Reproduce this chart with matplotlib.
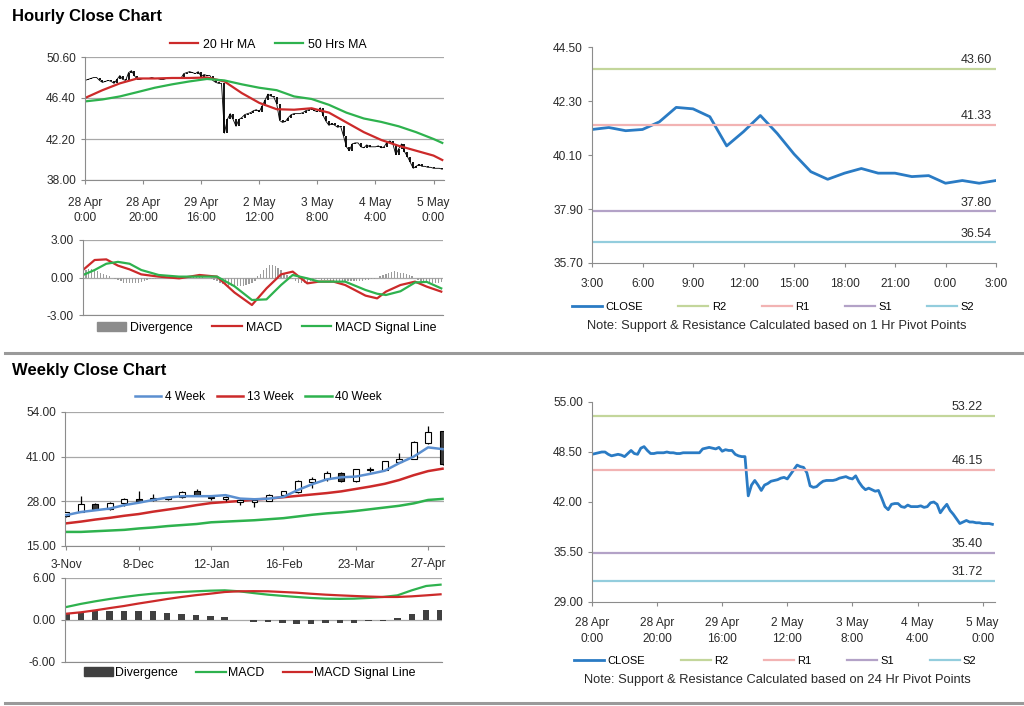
import matplotlib
matplotlib.use("Agg")
import matplotlib.pyplot as plt
import numpy as np
from matplotlib.lines import Line2D
from matplotlib.patches import Patch, Rectangle

plt.rcParams['font.family'] = ['Liberation Sans', 'DejaVu Sans']
plt.rcParams['font.size'] = 8.6

# ---------------- hourly data (28 Apr 0:00 .. 5 May ~3:00) ----------------
hourly_close = [
    48.2, 48.3, 48.4, 48.5, 48.5, 48.2, 48.0, 48.1, 48.2, 48.1,
    47.9, 48.3, 48.7, 48.3, 48.2, 49.0, 49.2, 48.7, 48.3, 48.3,
    48.4, 48.4, 48.4, 48.5, 48.4, 48.4, 48.3, 48.3, 48.4, 48.4,
    48.4, 48.4, 48.4, 48.4, 48.9, 49.0, 49.1, 49.0, 48.9, 49.1,
    48.6, 48.8, 48.7, 48.7, 48.2, 48.0, 47.9, 47.9, 42.8, 44.2,
    44.8, 44.2, 43.5, 44.2, 44.4, 44.7, 44.8, 44.9, 45.1, 45.2,
    45.0, 45.6, 46.2, 46.8, 46.6, 46.5, 45.8, 44.1, 43.9, 44.0,
    44.4, 44.7, 44.8, 44.8, 44.8, 44.9, 45.1, 45.2, 45.3, 45.1,
    45.0, 45.4, 44.6, 44.0, 43.6, 43.8, 43.6, 43.4, 43.5, 42.5,
    41.4, 41.0, 41.7, 41.8, 41.8, 41.4, 41.3, 41.6, 41.4, 41.4,
    41.4, 41.5, 41.3, 41.4, 41.9, 42.0, 41.7, 40.6, 41.2, 41.7,
    40.9, 40.4, 39.8, 39.2, 39.4, 39.6, 39.4, 39.4, 39.3, 39.3,
    39.2, 39.2, 39.2, 39.1,
]
hour_ticks = [0, 20, 40, 60, 80, 100, 120]
hour_tick_labels = ['28 Apr\n0:00', '28 Apr\n20:00', '29 Apr\n16:00', '2 May\n12:00',
                    '3 May\n8:00', '4 May\n4:00', '5 May\n0:00']

ma_hours = [0, 6, 12, 18, 24, 30, 36, 42, 48, 54, 60, 66, 72, 78, 84, 90, 96, 102, 108, 114, 120, 123]
ma20 = [46.4, 47.2, 47.9, 48.4, 48.4, 48.45, 48.45, 48.5, 48.1, 46.9, 45.9, 45.25,
        45.2, 45.35, 44.9, 43.9, 42.9, 42.1, 41.5, 41.0, 40.5, 40.05]
ma50 = [46.05, 46.25, 46.56, 47.0, 47.45, 47.8, 48.1, 48.35, 48.2, 47.8, 47.45, 47.2,
        46.56, 46.3, 45.7, 44.9, 44.3, 43.95, 43.5, 42.9, 42.2, 41.8]

macd_hours = [0, 4, 8, 12, 16, 20, 26, 33, 40, 46, 52, 58, 63, 68, 72, 77, 81, 86, 90,
              97, 101, 104, 109, 114, 118, 123]
macd_h = [0.6, 1.4, 1.45, 0.95, 0.65, 0.25, 0.07, -0.07, 0.2, 0.07, -1.2, -2.2, -0.87,
          0.25, 0.47, -0.47, -0.33, -0.33, -0.6, -1.45, -1.67, -1.13, -0.6, -0.33, -0.73, -1.13]
signal_h = [0.2, 0.6, 1.1, 1.25, 1.1, 0.6, 0.2, 0.07, 0.07, 0.07, -0.7, -1.8, -1.75,
            -0.6, 0.2, -0.07, -0.33, -0.33, -0.33, -1.0, -1.3, -1.4, -1.1, -0.4, -0.35, -0.87]
divergence_h = [
    0.5, 0.6, 0.7, 0.7, 0.6, 0.5, 0.4, 0.3, 0.2, 0.1,
    0.0, -0.1, -0.2, -0.3, -0.4, -0.45, -0.45, -0.45, -0.4, -0.4,
    -0.35, -0.3, -0.2, -0.15, -0.1, -0.1, -0.05, -0.05, 0.0, 0.0,
    0.02, 0.02, 0.02, 0.02, 0.02, 0.02, 0.02, 0.02, 0.02, 0.02,
    0.05, 0.05, 0.0, -0.05, -0.1, -0.2, -0.3, -0.4, -0.5, -0.6,
    -0.65, -0.7, -0.75, -0.7, -0.7, -0.65, -0.6, -0.5, -0.4, -0.3,
    0.1, 0.3, 0.6, 0.8, 1.0, 1.0, 0.95, 0.8, 0.6, 0.4,
    0.2, 0.1, -0.1, -0.3, -0.4, -0.45, -0.45, -0.4, -0.3, -0.2,
    -0.1, -0.15, -0.2, -0.2, -0.2, -0.25, -0.25, -0.3, -0.3, -0.3,
    -0.3, -0.3, -0.3, -0.3, -0.3, -0.3, -0.25, -0.2, -0.2, -0.15,
    -0.1, 0.0, 0.1, 0.2, 0.3, 0.4, 0.45, 0.5, 0.45, 0.4,
    0.35, 0.3, 0.2, 0.1, 0.0, -0.2, -0.3, -0.4, -0.3, -0.35,
    -0.4, -0.4, -0.4, -0.35,
]

# last 24 hours close (3:00 .. 3:00)
day_close = [41.14, 41.22, 41.09, 41.14, 41.45, 42.04, 41.98, 41.66, 40.47, 41.05,
             41.71, 40.98, 40.14, 39.42, 39.11, 39.36, 39.55, 39.36, 39.36, 39.22,
             39.26, 38.95, 39.06, 38.95, 39.06]
day_tick_labels = ['3:00', '6:00', '9:00', '12:00', '15:00', '18:00', '21:00', '0:00', '3:00']

level_names = ['R2', 'R1', 'S1', 'S2']
level_colors = ['#c3d69b', '#f2b3b3', '#b3a2c7', '#93cddd']
hr_levels = [43.60, 41.33, 37.80, 36.54]
day_levels = [53.22, 46.15, 35.40, 31.72]

# ---------------- weekly data (3-Nov .. 4-May) ----------------
wk_open = [23.6, 25.0, 27.3, 25.8, 27.5, 28.7, 28.4, 28.7, 29.2, 31.0, 29.0, 28.8, 27.8, 27.8,
           28.2, 29.9, 30.6, 33.6, 34.5, 36.2, 33.9, 37.0, 37.2, 39.4, 40.4, 45.0, 48.4]
wk_close = [24.9, 27.1, 25.7, 27.5, 28.7, 28.1, 29.0, 29.2, 30.7, 29.7, 29.4, 29.4, 28.5, 28.5,
            29.9, 30.9, 33.9, 34.5, 36.2, 34.0, 37.3, 37.3, 39.6, 40.4, 45.3, 48.2, 38.9]
wk_high = [25.0, 29.5, 27.6, 27.7, 28.9, 31.0, 30.0, 29.4, 30.9, 31.6, 29.6, 29.6, 28.7, 28.7,
           30.0, 31.1, 34.2, 35.0, 36.8, 36.4, 37.5, 38.0, 39.8, 42.1, 45.5, 49.9, 48.6]
wk_low = [23.4, 24.9, 25.5, 25.6, 26.5, 27.9, 28.2, 28.5, 29.0, 29.5, 28.3, 28.2, 26.8, 26.3,
          28.0, 29.4, 30.4, 31.9, 34.0, 33.5, 33.7, 36.5, 37.0, 39.2, 40.2, 44.6, 38.7]
ma4w = [24.0, 24.9, 25.4, 25.9, 26.9, 27.6, 28.4, 29.1, 29.5, 29.5, 29.5, 29.8, 28.8, 28.6,
        28.8, 29.3, 31.3, 33.0, 34.4, 35.0, 35.2, 36.0, 36.9, 39.1, 41.0, 43.7, 43.2]
ma13w = [21.6, 22.1, 22.7, 23.2, 23.8, 24.3, 25.0, 25.6, 26.2, 26.9, 27.5, 27.8, 28.1, 28.5,
         28.8, 29.2, 29.6, 30.0, 30.4, 30.9, 31.6, 32.3, 33.1, 34.2, 35.6, 36.8, 37.5]
ma40w = [19.1, 19.1, 19.3, 19.5, 19.7, 20.1, 20.4, 20.8, 21.1, 21.4, 21.9, 22.1, 22.3, 22.5,
         22.8, 23.1, 23.6, 24.1, 24.5, 24.8, 25.2, 25.7, 26.2, 26.7, 27.4, 28.4, 28.7]
macd_w = [1.86, 2.3, 2.67, 3.0, 3.29, 3.55, 3.76, 3.9, 4.0, 4.1, 4.19, 4.24, 4.1, 3.85,
          3.62, 3.45, 3.29, 3.15, 3.05, 3.02, 3.05, 3.15, 3.29, 3.52, 4.24, 4.86, 5.05]
signal_w = [0.9, 1.1, 1.38, 1.7, 2.0, 2.35, 2.67, 3.0, 3.29, 3.55, 3.76, 4.0, 4.1, 4.12,
            4.1, 4.0, 3.9, 3.75, 3.62, 3.52, 3.43, 3.35, 3.29, 3.29, 3.38, 3.52, 3.67]
divergence_w = [0.9, 1.05, 1.24, 1.24, 1.24, 1.24, 1.24, 1.05, 0.9, 0.76, 0.57, 0.43, 0.05,
                -0.29, -0.29, -0.38, -0.57, -0.57, -0.43, -0.43, -0.43, -0.14, -0.14,
                0.33, 0.9, 1.38, 1.38]
week_ticks = [0, 5, 10, 15, 20, 25]
week_tick_labels = ['3-Nov', '8-Dec', '12-Jan', '16-Feb', '23-Mar', '27-Apr']

RED = '#cc2a2a'
GREEN = '#2eb24e'
CLOSE_BLUE = '#2a7bc4'
SPINE = '#8c8c8c'
TXT = '#2a2a2a'
LEG = 8.9
W, H = 1024, 706


def add_ax(x0, y0, x1, y1):
    # pixel box -> figure axes
    return fig.add_axes([x0 / W, 1 - y1 / H, (x1 - x0) / W, (y1 - y0) / H])


def style(ax, grid=True):
    for s in ['top', 'right']:
        ax.spines[s].set_visible(False)
    for s in ['left', 'bottom']:
        ax.spines[s].set_color(SPINE)
    ax.tick_params(colors=SPINE, labelcolor=TXT, length=3, labelsize=8.6)
    if grid:
        ax.yaxis.grid(True, color='#a8a8a8', lw=0.9)
        ax.set_axisbelow(True)


fig = plt.figure(figsize=(10.24, 7.06), dpi=100)

fig.text(12 / W, 1 - 16 / H, 'Hourly Close Chart', fontsize=12, fontweight='bold', va='center')
fig.text(12 / W, 1 - 370 / H, 'Weekly Close Chart', fontsize=12, fontweight='bold', va='center')
for yy in [352.5, 702.5]:
    fig.add_artist(Line2D([0.005, 1], [1 - yy / H] * 2, color='#9a9a9a', lw=2.2))

hours = np.arange(len(hourly_close))
hc = np.array(hourly_close)

# ---- top-left: hourly price ----
ax1 = add_ax(85, 57, 444, 180)
style(ax1)
ax1.vlines(hours[1:], np.minimum(hc[:-1], hc[1:]), np.maximum(hc[:-1], hc[1:]), color='black', lw=1.3)
ax1.plot(hours, hc, color='black', lw=0.6)
l20, = ax1.plot(ma_hours, ma20, color=RED, lw=1.6)
l50, = ax1.plot(ma_hours, ma50, color=GREEN, lw=1.6)
ax1.set_xlim(0, 123.6)
ax1.set_ylim(38.0, 50.6)
ax1.set_yticks([38.0, 42.2, 46.4, 50.6])
ax1.set_yticklabels(['%.2f' % v for v in [38.0, 42.2, 46.4, 50.6]])
ax1.set_xticks(hour_ticks)
ax1.set_xticklabels(hour_tick_labels, linespacing=1.4)
ax1.tick_params(axis='x', pad=9)
ax1.legend([l20, l50], ['20 Hr MA', '50 Hrs MA'], loc='center', bbox_to_anchor=(0.51, 1.1),
           ncol=2, frameon=False, handlelength=2.3, handletextpad=0.35, columnspacing=1.6, fontsize=LEG)

# ---- top-left: hourly MACD ----
ax2 = add_ax(83, 240, 443, 315)
style(ax2)
ax2.bar(hours, divergence_h, width=0.45, color='#9c9c9c')
lm, = ax2.plot(macd_hours, macd_h, color=RED, lw=1.6)
ls, = ax2.plot(macd_hours, signal_h, color=GREEN, lw=1.6)
ax2.set_xlim(0, 123.6)
ax2.set_ylim(-3, 3)
ax2.set_yticks([-3, 0, 3])
ax2.set_yticklabels(['-3.00', '0.00', '3.00'])
ax2.set_xticks([])
ax2.legend([Patch(color='#8c8c8c'), lm, ls], ['Divergence', 'MACD', 'MACD Signal Line'],
           loc='center', bbox_to_anchor=(0.51, -0.17), ncol=3, frameon=False, handlelength=2.4,
           handletextpad=0.3, columnspacing=1.6, fontsize=LEG)

# ---- top-right: last day with pivot levels ----
ax3 = add_ax(592, 47, 996, 263)
style(ax3, grid=False)
lc, = ax3.plot(np.arange(len(day_close)), day_close, color=CLOSE_BLUE, lw=2)
lvl_lines = []
for v, c in zip(hr_levels, level_colors):
    ln = ax3.axhline(v, color=c, lw=1.6)
    lvl_lines.append(ln)
    ax3.annotate('%.2f' % v, xy=(0.99, v), xycoords=('axes fraction', 'data'), xytext=(0, 2),
                 textcoords='offset points', ha='right', va='bottom', fontsize=9, color=TXT)
ax3.set_xlim(0, 24)
ax3.set_ylim(35.7, 44.5)
yt3 = [35.7, 37.9, 40.1, 42.3, 44.5]
ax3.set_yticks(yt3)
ax3.set_yticklabels(['%.2f' % v for v in yt3])
ax3.set_xticks(range(0, 25, 3))
ax3.set_xticklabels(day_tick_labels)
ax3.tick_params(axis='x', pad=8)
ax3.legend([lc] + lvl_lines, ['CLOSE'] + level_names, loc='center', bbox_to_anchor=(0.448, -0.205),
           ncol=5, frameon=False, handlelength=2.7, handletextpad=0.3, columnspacing=3.2, fontsize=8)
fig.text(777 / W, 1 - 326 / H, 'Note: Support & Resistance Calculated based on 1 Hr Pivot Points',
         ha='center', va='center', fontsize=9.3, color=TXT)

# ---- bottom-left: weekly candles ----
weeks = np.arange(len(wk_close))
ax4 = add_ax(65, 412, 444, 546)
style(ax4)
for i in weeks:
    o, c = wk_open[i], wk_close[i]
    ax4.vlines(i, wk_low[i], wk_high[i], color='black', lw=0.9, zorder=3)
    up = c >= o
    ax4.add_patch(Rectangle((i - 0.2, min(o, c)), 0.4, max(abs(c - o), 0.15),
                            facecolor='white' if up else '#3a3a3a', edgecolor='black', lw=0.8, zorder=4))
l4, = ax4.plot(weeks, ma4w, color='#5b8fd0', lw=1.8, zorder=5)
l13, = ax4.plot(weeks, ma13w, color=RED, lw=1.8, zorder=2)
l40, = ax4.plot(weeks, ma40w, color=GREEN, lw=1.8, zorder=2)
ax4.set_xlim(-0.1, 26.1)
ax4.set_ylim(15, 54)
ax4.set_yticks([15, 28, 41, 54])
ax4.set_yticklabels(['15.00', '28.00', '41.00', '54.00'])
ax4.set_xticks(week_ticks)
ax4.set_xticklabels(week_tick_labels)
ax4.tick_params(axis='x', pad=6)
ax4.legend([l4, l13, l40], ['4 Week', '13 Week', '40 Week'], loc='center', bbox_to_anchor=(0.51, 1.11),
           ncol=3, frameon=False, handlelength=2.2, handletextpad=0.3, columnspacing=1.0, fontsize=8.6)

# ---- bottom-left: weekly MACD ----
ax5 = add_ax(65, 578, 442, 662)
style(ax5)
ax5.bar(weeks, divergence_w, width=0.45, color='#404040')
lmw, = ax5.plot(weeks, macd_w, color=GREEN, lw=1.6)
lsw, = ax5.plot(weeks, signal_w, color=RED, lw=1.6)
ax5.set_xlim(-0.1, 26.1)
ax5.set_ylim(-6, 6)
ax5.set_yticks([-6, 0, 6])
ax5.set_yticklabels(['-6.00', '0.00', '6.00'])
ax5.set_xticks([])
ax5.legend([Patch(color='#404040'), lmw, lsw], ['Divergence', 'MACD', 'MACD Signal Line'],
           loc='center', bbox_to_anchor=(0.49, -0.13), ncol=3, frameon=False, handlelength=2.4,
           handletextpad=0.15, columnspacing=1.5, fontsize=LEG)

# ---- bottom-right: hourly close with daily pivots ----
ax6 = add_ax(592, 402, 995, 602)
style(ax6, grid=False)
lc2, = ax6.plot(hours, hc, color=CLOSE_BLUE, lw=2)
lvl_lines2 = []
for v, c in zip(day_levels, level_colors):
    ln = ax6.axhline(v, color=c, lw=1.6)
    lvl_lines2.append(ln)
    ax6.annotate('%.2f' % v, xy=(0.97, v), xycoords=('axes fraction', 'data'), xytext=(0, 2),
                 textcoords='offset points', ha='right', va='bottom', fontsize=9, color=TXT)
ax6.set_xlim(0, 123.8)
ax6.set_ylim(29, 55)
yt6 = [29.0, 35.5, 42.0, 48.5, 55.0]
ax6.set_yticks(yt6)
ax6.set_yticklabels(['%.2f' % v for v in yt6])
ax6.set_xticks(hour_ticks)
ax6.set_xticklabels(hour_tick_labels, linespacing=1.4)
ax6.tick_params(axis='x', pad=8)
ax6.legend([lc2] + lvl_lines2, ['CLOSE'] + level_names, loc='center', bbox_to_anchor=(0.455, -0.295),
           ncol=5, frameon=False, handlelength=2.7, handletextpad=0.3, columnspacing=3.2, fontsize=8)
fig.text(777 / W, 1 - 680 / H, 'Note: Support & Resistance Calculated based on 24 Hr Pivot Points',
         ha='center', va='center', fontsize=9.3, color=TXT)

fig.savefig('out.png', dpi=100)
